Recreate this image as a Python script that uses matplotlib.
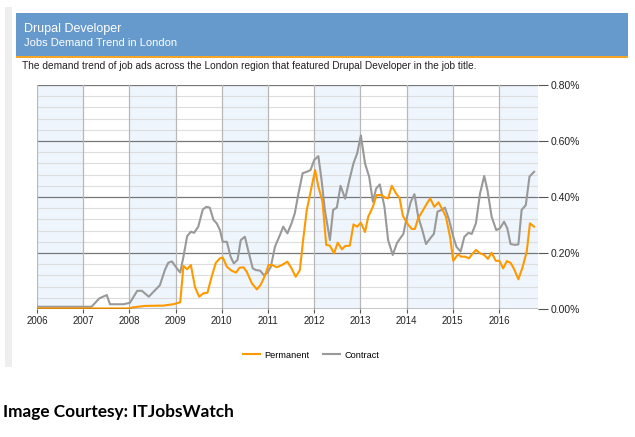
import matplotlib.pyplot as plt
from matplotlib.patches import Rectangle
from matplotlib.lines import Line2D
import numpy as np

# Data (fractional year, % of job ads)
perm_x = [2006.00, 2008.00, 2008.08, 2008.34, 2008.66, 2008.73, 2008.95, 2009.10, 2009.17, 2009.25,
          2009.33, 2009.42, 2009.51, 2009.60, 2009.69, 2009.78, 2009.87, 2009.96, 2010.02, 2010.11,
          2010.21, 2010.31, 2010.38, 2010.47, 2010.54, 2010.65, 2010.76, 2010.84, 2010.94, 2011.01,
          2011.09, 2011.19, 2011.30, 2011.42, 2011.51, 2011.60, 2011.69, 2011.76, 2011.84, 2011.93,
          2012.02, 2012.09, 2012.18, 2012.26, 2012.34, 2012.43, 2012.51, 2012.60, 2012.67, 2012.77,
          2012.85, 2012.93, 2013.01, 2013.10, 2013.17, 2013.27, 2013.35, 2013.46, 2013.53, 2013.60,
          2013.68, 2013.77, 2013.85, 2013.92, 2014.02, 2014.11, 2014.18, 2014.25, 2014.35, 2014.44,
          2014.51, 2014.60, 2014.69, 2014.76, 2014.85, 2014.94, 2015.01, 2015.11, 2015.18, 2015.26,
          2015.35, 2015.42, 2015.50, 2015.59, 2015.68, 2015.76, 2015.84, 2015.93, 2016.01, 2016.09,
          2016.17, 2016.25, 2016.32, 2016.42, 2016.51, 2016.60, 2016.67, 2016.76]
perm_y = [0.002, 0.002, 0.006, 0.011, 0.012, 0.012, 0.017, 0.024, 0.154, 0.142,
          0.157, 0.078, 0.044, 0.056, 0.058, 0.115, 0.165, 0.181, 0.184, 0.151,
          0.137, 0.130, 0.147, 0.149, 0.133, 0.092, 0.070, 0.086, 0.121, 0.157,
          0.157, 0.149, 0.157, 0.169, 0.145, 0.115, 0.139, 0.246, 0.354, 0.425,
          0.496, 0.437, 0.383, 0.229, 0.226, 0.199, 0.237, 0.213, 0.225, 0.226,
          0.302, 0.294, 0.308, 0.275, 0.330, 0.365, 0.407, 0.407, 0.398, 0.395,
          0.440, 0.413, 0.395, 0.332, 0.304, 0.286, 0.286, 0.324, 0.351, 0.377,
          0.395, 0.365, 0.381, 0.360, 0.330, 0.258, 0.172, 0.195, 0.187, 0.187,
          0.181, 0.196, 0.211, 0.199, 0.193, 0.179, 0.201, 0.172, 0.172, 0.145,
          0.171, 0.165, 0.145, 0.106, 0.149, 0.205, 0.306, 0.294]

cont_x = [2006.00, 2007.18, 2007.35, 2007.51, 2007.58, 2007.87, 2008.01, 2008.17, 2008.27, 2008.42,
          2008.66, 2008.77, 2008.84, 2008.92, 2009.02, 2009.10, 2009.17, 2009.25, 2009.33, 2009.40,
          2009.49, 2009.59, 2009.67, 2009.74, 2009.82, 2009.89, 2009.96, 2010.02, 2010.11, 2010.19,
          2010.26, 2010.34, 2010.41, 2010.50, 2010.57, 2010.67, 2010.74, 2010.83, 2010.91, 2010.99,
          2011.06, 2011.15, 2011.26, 2011.33, 2011.42, 2011.51, 2011.58, 2011.66, 2011.75, 2011.84,
          2011.92, 2012.00, 2012.09, 2012.16, 2012.23, 2012.34, 2012.41, 2012.49, 2012.57, 2012.67,
          2012.76, 2012.85, 2012.93, 2013.01, 2013.10, 2013.19, 2013.27, 2013.34, 2013.42, 2013.52,
          2013.60, 2013.70, 2013.79, 2013.86, 2013.93, 2014.00, 2014.09, 2014.17, 2014.25, 2014.34,
          2014.42, 2014.51, 2014.59, 2014.67, 2014.76, 2014.83, 2014.92, 2015.01, 2015.08, 2015.17,
          2015.25, 2015.34, 2015.41, 2015.50, 2015.59, 2015.68, 2015.75, 2015.84, 2015.94, 2016.02,
          2016.11, 2016.18, 2016.25, 2016.35, 2016.42, 2016.49, 2016.58, 2016.66, 2016.76]
cont_y = [0.008, 0.008, 0.038, 0.050, 0.017, 0.017, 0.022, 0.065, 0.065, 0.044,
          0.085, 0.140, 0.165, 0.170, 0.147, 0.130, 0.187, 0.260, 0.276, 0.272,
          0.294, 0.356, 0.365, 0.362, 0.318, 0.306, 0.282, 0.240, 0.240, 0.187,
          0.163, 0.175, 0.246, 0.258, 0.210, 0.145, 0.139, 0.137, 0.121, 0.130,
          0.150, 0.222, 0.265, 0.294, 0.270, 0.306, 0.342, 0.413, 0.485, 0.490,
          0.496, 0.532, 0.546, 0.460, 0.354, 0.246, 0.354, 0.362, 0.440, 0.394,
          0.460, 0.520, 0.556, 0.620, 0.520, 0.472, 0.383, 0.430, 0.445, 0.365,
          0.246, 0.193, 0.235, 0.252, 0.268, 0.324, 0.383, 0.410, 0.330, 0.282,
          0.232, 0.252, 0.268, 0.348, 0.354, 0.362, 0.318, 0.258, 0.222, 0.205,
          0.258, 0.272, 0.268, 0.306, 0.413, 0.475, 0.425, 0.330, 0.282, 0.288,
          0.312, 0.288, 0.232, 0.229, 0.231, 0.354, 0.371, 0.473, 0.490]

years = list(range(2006, 2017))
y_ticks = [0.0, 0.2, 0.4, 0.6, 0.8]
y_labels = ['0.00%', '0.20%', '0.40%', '0.60%', '0.80%']

plt.rcParams['font.family'] = ['Liberation Sans', 'DejaVu Sans']

W, H = 635, 437
fig = plt.figure(figsize=(W / 100, H / 100), dpi=100)
fig.patch.set_facecolor('white')

# panel decorations (figure pixel coords, origin top-left)
def px_rect(x0, y0, x1, y1, **kw):
    fig.add_artist(Rectangle((x0 / W, 1 - y1 / H), (x1 - x0) / W, (y1 - y0) / H,
                             transform=fig.transFigure, **kw))

px_rect(5, 7, 12, 367, facecolor='#eeeeee', edgecolor='none')
px_rect(16, 13, 628, 56, facecolor='#6699cc', edgecolor='none')
px_rect(16, 56, 628, 58, facecolor='#f5a623', edgecolor='none')

fig.text(24 / W, 1 - 29 / H, 'Drupal Developer', color='white', fontsize=9, va='center')
fig.text(24 / W, 1 - 43 / H, 'Jobs Demand Trend in London', color='white', fontsize=8, va='center')
fig.text(22 / W, 1 - 66 / H,
         'The demand trend of job ads across the London region that featured Drupal Developer in the job title.',
         color='#222222', fontsize=7.3, va='center')

xmax = 2006 + (538 - 37) / 46.2
ax = fig.add_axes([37 / W, 1 - 309 / H, (538 - 37) / W, (309 - 85) / H])
ax.set_xlim(2006, xmax)
ax.set_ylim(0, 0.8)

# alternating year bands
for yr in years:
    if (yr - 2006) % 2 == 0:
        ax.axvspan(yr, min(yr + 1, xmax), color='#eef5fd', lw=0, zorder=0)

# minor and major horizontal lines
for v in np.arange(0.04, 0.8, 0.04):
    if abs(v / 0.2 - round(v / 0.2)) > 1e-6:
        ax.axhline(v, color='#dddddd', lw=0.8, zorder=1)
for v in y_ticks:
    ax.axhline(v, color='#777777', lw=0.9, zorder=1)
for yr in years:
    ax.axvline(yr, color='#b8b8b8', lw=0.9, zorder=1)

ax.plot(cont_x, cont_y, color='#999999', lw=1.5, zorder=3)
ax.plot(perm_x, perm_y, color='#ff9900', lw=1.5, zorder=4)

for s in ax.spines.values():
    s.set_visible(False)
ax.axhline(0, color='#333333', lw=1.0, zorder=5)

ax.set_xticks(years)
ax.set_xticklabels([str(y) for y in years], fontsize=7, color='#222222')
ax.tick_params(axis='x', length=3, color='#555555', pad=2)
ax.yaxis.tick_right()
ax.set_yticks(y_ticks)
ax.set_yticklabels(y_labels, fontsize=7.5, color='#222222')
ax.tick_params(axis='y', length=7, color='#555555', pad=2)

handles = [Line2D([], [], color='#ff9900', lw=1.5), Line2D([], [], color='#999999', lw=1.5)]
fig.legend(handles, ['Permanent', 'Contract'], loc='center', bbox_to_anchor=(311 / W, 1 - 355 / H),
           ncol=2, frameon=False, fontsize=6.6, handlelength=1.8, handletextpad=0.5, columnspacing=1.5)

fig.text(3 / W, 1 - 412 / H, 'Image Courtesy: ITJobsWatch', fontsize=12.4, fontweight='bold',
         family=['Lato', 'DejaVu Sans'], va='center', color='black')

fig.savefig('out.png', dpi=100)
